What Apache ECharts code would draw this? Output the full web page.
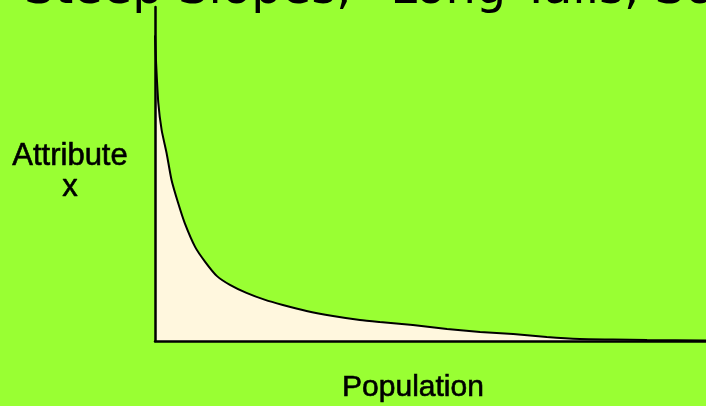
<!DOCTYPE html>
<html>
<head>
<meta charset="utf-8">
<script src="https://cdn.jsdelivr.net/npm/echarts@6/dist/echarts.min.js"></script>
<style>
html,body{margin:0;padding:0;background:#99ff33;}
#c{width:706px;height:406px;}
</style>
</head>
<body>
<div id="c"></div>
<script>
// Population share (0-100, left to right) and attribute value (0-100)
const population = [0, 0.2, 0.6, 1.2, 2.1, 3.0, 4.2, 5.4, 7.3, 9.1, 11.2, 13.6, 16.6, 20.0, 23.2, 27.5, 32.3, 37.2, 40.8, 46.8, 53.0, 59.0, 65.0, 71.1, 77.1, 83.1, 89.3, 100];
const attribute  = [91.5, 83.2, 71.3, 63.2, 56.3, 48.2, 41.3, 35.3, 28.1, 23.7, 19.5, 16.8, 14.4, 12.3, 10.8, 9.0, 7.5, 6.3, 5.7, 4.8, 3.6, 2.7, 2.1, 1.2, 0.6, 0.45, 0.3, 0.15];
const titleText = 'Steep Slopes, \u201CLong Tails, So';
const yLabel = 'Attribute\nx';
const xLabel = 'Population';

const chart = echarts.init(document.getElementById('c'), null, {renderer: 'canvas'});
chart.setOption({
  backgroundColor: '#99ff33',
  animation: false,
  grid: {left: 155, right: 0, top: 7, bottom: 65, containLabel: false},
  xAxis: {
    type: 'value', min: 0, max: 100, z: 5,
    axisLine: {show: true, lineStyle: {color: '#000', width: 2.5}},
    axisTick: {show: false}, axisLabel: {show: false}, splitLine: {show: false}
  },
  yAxis: {
    type: 'value', min: 0, max: 100, z: 5,
    axisLine: {show: true, lineStyle: {color: '#000', width: 2.5}},
    axisTick: {show: false}, axisLabel: {show: false}, splitLine: {show: false}
  },
  series: [{
    type: 'line',
    z: 1,
    data: population.map((p, i) => [p, attribute[i]]),
    smooth: 0.2,
    showSymbol: false,
    lineStyle: {color: '#000', width: 2},
    areaStyle: {color: '#fff7de', opacity: 1}
  }],
  graphic: [
    {type: 'text', x: 24, y: -9, style: {text: titleText, font: '48px "DejaVu Sans"', fill: '#000', verticalAlign: 'middle'}},
    {type: 'text', x: 70, y: 172, style: {text: yLabel, font: '31px "Liberation Sans"', fill: '#000', stroke: '#000', lineWidth: 0.6, align: 'center', verticalAlign: 'middle', lineHeight: 31}},
    {type: 'text', x: 413, y: 388, style: {text: xLabel, font: '30px "Liberation Sans"', fill: '#000', stroke: '#000', lineWidth: 0.6, align: 'center', verticalAlign: 'middle'}}
  ]
});
</script>
</body>
</html>
